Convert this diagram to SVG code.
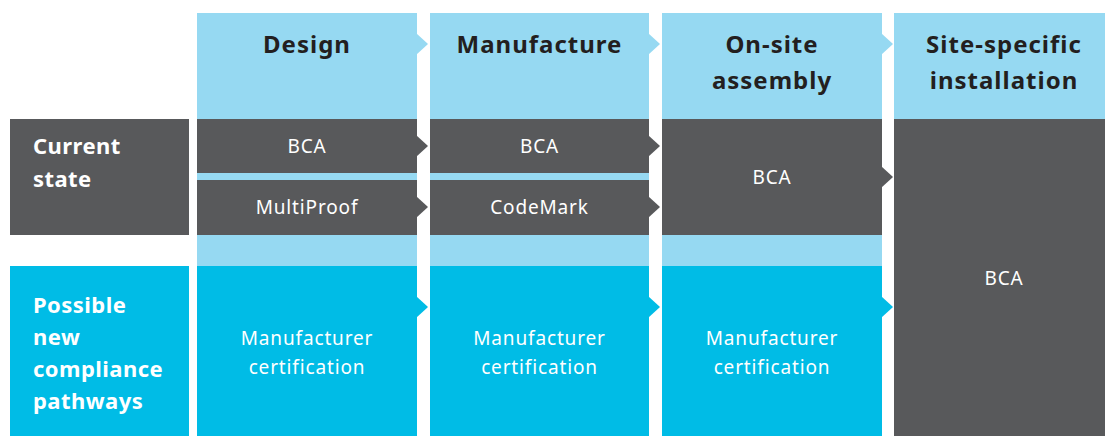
<svg xmlns="http://www.w3.org/2000/svg" width="1105" height="436" viewBox="0 0 1105 436">
<style>
.hd{fill:#96D9F2}
.dk{fill:#58595B}
.cy{fill:#00BCE6}
.ht{font-family:"Noto Sans","DejaVu Sans",sans-serif;font-weight:bold;font-size:24px;letter-spacing:1px;fill:#231F20;text-anchor:middle}
.lt{font-family:"Noto Sans","DejaVu Sans",sans-serif;font-weight:bold;font-size:22px;letter-spacing:0.45px;fill:#FFFFFF}
.bt{font-family:"Noto Sans","DejaVu Sans",sans-serif;font-size:19px;letter-spacing:0.85px;fill:#FFFFFF;text-anchor:middle}
</style>
<rect width="1105" height="436" fill="#FFFFFF"/>
<g id="label-current">
<rect class="dk" x="10" y="119" width="179" height="116"/>
<text class="lt" x="33" y="154">Current</text>
<text class="lt" x="33" y="187">state</text>
</g>
<g id="label-possible">
<rect class="cy" x="10" y="266" width="179" height="170"/>
<text class="lt" x="33" y="313">Possible</text>
<text class="lt" x="33" y="345">new</text>
<text class="lt" x="33" y="377">compliance</text>
<text class="lt" x="33" y="409">pathways</text>
</g>
<g id="col-design">
<rect class="hd" x="197" y="13" width="220" height="253"/>
<text class="ht" x="307" y="53">Design</text>
</g>
<g id="design-bca">
<rect class="dk" x="197" y="119" width="220" height="54"/>
<text class="bt" x="307" y="153">BCA</text>
</g>
<g id="design-multiproof">
<rect class="dk" x="197" y="180" width="220" height="55"/>
<text class="bt" x="307" y="214">MultiProof</text>
</g>
<g id="design-cert">
<rect class="cy" x="197" y="266" width="220" height="170"/>
<text class="bt" x="307" y="345">Manufacturer</text>
<text class="bt" x="307" y="374">certification</text>
</g>
<g id="col-manufacture">
<rect class="hd" x="430" y="13" width="219" height="253"/>
<text class="ht" x="539.5" y="53">Manufacture</text>
</g>
<g id="manufacture-bca">
<rect class="dk" x="430" y="119" width="219" height="54"/>
<text class="bt" x="539.5" y="153">BCA</text>
</g>
<g id="manufacture-codemark">
<rect class="dk" x="430" y="180" width="219" height="55"/>
<text class="bt" x="539.5" y="214">CodeMark</text>
</g>
<g id="manufacture-cert">
<rect class="cy" x="430" y="266" width="219" height="170"/>
<text class="bt" x="539.5" y="345">Manufacturer</text>
<text class="bt" x="539.5" y="374">certification</text>
</g>
<g id="col-onsite">
<rect class="hd" x="662" y="13" width="220" height="253"/>
<text class="ht" x="772" y="53">On-site</text>
<text class="ht" x="772" y="89">assembly</text>
</g>
<g id="onsite-bca">
<rect class="dk" x="662" y="119" width="220" height="116"/>
<text class="bt" x="772" y="184">BCA</text>
</g>
<g id="onsite-cert">
<rect class="cy" x="662" y="266" width="220" height="170"/>
<text class="bt" x="772" y="345">Manufacturer</text>
<text class="bt" x="772" y="374">certification</text>
</g>
<g id="col-site">
<rect class="hd" x="894" y="13" width="211" height="106"/>
<text class="ht" x="1004" y="53">Site-specific</text>
<text class="ht" x="1004" y="89">installation</text>
</g>
<g id="site-bca">
<rect class="dk" x="894" y="119" width="211" height="317"/>
<text class="bt" x="1004" y="285">BCA</text>
</g>
<g id="connectors">
<polygon class="hd" points="416,33 428,44 416,55"/>
<polygon class="hd" points="648,33 660,44 648,55"/>
<polygon class="hd" points="881,33 893,44 881,55"/>
<polygon class="dk" points="416,135 428,146 416,157"/>
<polygon class="dk" points="416,196 428,207 416,218"/>
<polygon class="dk" points="648,135 660,146 648,157"/>
<polygon class="dk" points="648,196 660,207 648,218"/>
<polygon class="dk" points="881,166 893,177 881,188"/>
<polygon class="cy" points="416,296 428,307 416,318"/>
<polygon class="cy" points="648,296 660,307 648,318"/>
<polygon class="cy" points="881,296 893,307 881,318"/>
</g>
</svg>
